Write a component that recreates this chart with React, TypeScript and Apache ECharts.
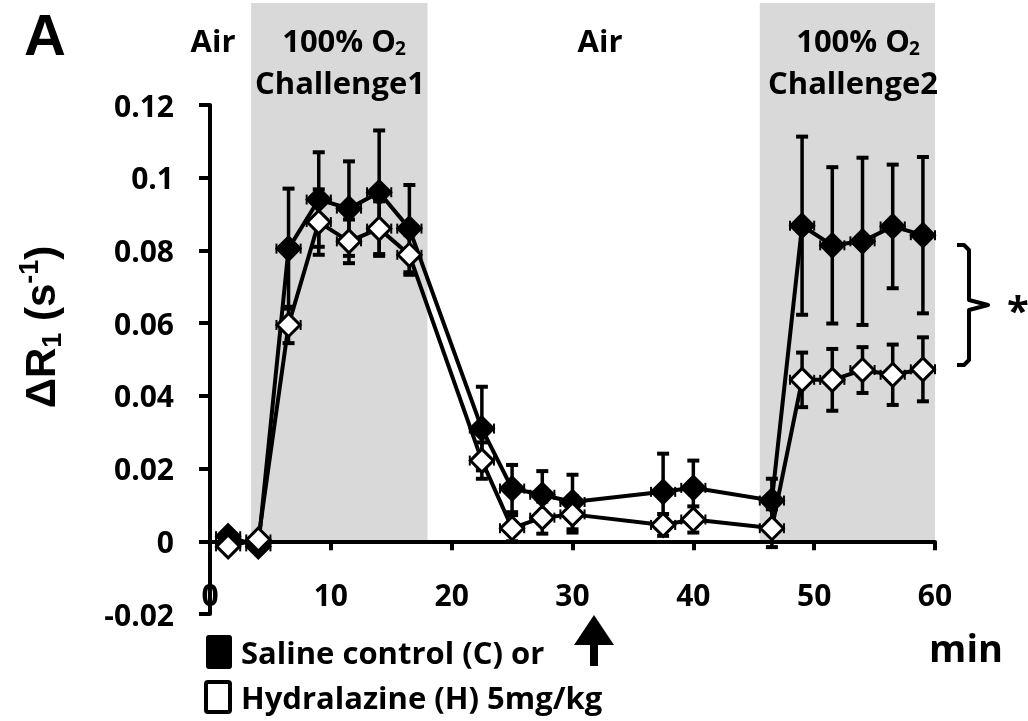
import React, { useEffect, useRef } from 'react';
import * as echarts from 'echarts';

// ---- data ----
const timeMin = [1.5, 4, 6.5, 9, 11.5, 14, 16.5, 22.5, 25, 27.5, 30, 37.5, 40, 46.5, 49, 51.5, 54, 56.5, 59];
const salineMean = [0.0014, -0.0014, 0.0805, 0.094, 0.0915, 0.096, 0.086, 0.031, 0.0145, 0.0128, 0.0108, 0.0136, 0.0147, 0.0112, 0.0868, 0.0814, 0.0825, 0.0866, 0.0842];
const salineSem = [0.001, 0.001, 0.0165, 0.013, 0.013, 0.017, 0.012, 0.0115, 0.0065, 0.0065, 0.0075, 0.0105, 0.0075, 0.006, 0.0245, 0.0215, 0.023, 0.017, 0.0215];
const hydralazineMean = [-0.0014, 0.0005, 0.0595, 0.0878, 0.0825, 0.086, 0.0788, 0.0222, 0.0036, 0.0065, 0.0074, 0.0045, 0.006, 0.0036, 0.0444, 0.0444, 0.0471, 0.0458, 0.0473];
const hydralazineSem = [0.001, 0.001, 0.005, 0.009, 0.006, 0.0075, 0.0055, 0.005, 0.0036, 0.0044, 0.005, 0.003, 0.0036, 0.0052, 0.0075, 0.0085, 0.0063, 0.0083, 0.0088];
const timeSem = [1, 1, 1, 1, 1, 1, 1, 1, 1, 1, 1, 1, 1, 1, 1, 1, 1, 1, 1];
const challengeWindows = [[3.4, 18.0], [45.5, 60.0]];
const yTickFormat = (v: number) => String(+v.toFixed(2));

const FONT = 'Open Sans';

function errRender(params: any, api: any) {
  const x = api.value(0), y = api.value(1), e = api.value(2), xe = api.value(3);
  const top = api.coord([x, y + e]);
  const bot = api.coord([x, y - e]);
  const left = api.coord([x - xe, y]);
  const right = api.coord([x + xe, y]);
  const cap = 6;
  const hcap = 5;
  const st = { stroke: '#000', lineWidth: 3.5 };
  const st2 = { stroke: '#000', lineWidth: 2 };
  return {
    type: 'group',
    children: [
      { type: 'line', shape: { x1: top[0], y1: top[1], x2: bot[0], y2: bot[1] }, style: st },
      { type: 'line', shape: { x1: top[0] - cap, y1: top[1], x2: top[0] + cap, y2: top[1] }, style: { stroke: '#000', lineWidth: 4 } },
      { type: 'line', shape: { x1: bot[0] - cap, y1: bot[1], x2: bot[0] + cap, y2: bot[1] }, style: { stroke: '#000', lineWidth: 4 } },
      { type: 'line', shape: { x1: left[0], y1: left[1], x2: right[0], y2: right[1] }, style: st2 },
      { type: 'line', shape: { x1: left[0], y1: left[1] - hcap, x2: left[0], y2: left[1] + hcap }, style: st2 },
      { type: 'line', shape: { x1: right[0], y1: right[1] - hcap, x2: right[0], y2: right[1] + hcap }, style: st2 },
    ],
  };
}

function shadeRender(params: any, api: any) {
  const x0 = api.value(0), x1 = api.value(1);
  const p0 = api.coord([x0, 0]);
  const p1 = api.coord([x1, 0]);
  const topPx = 3;
  return {
    type: 'rect',
    shape: { x: p0[0], y: topPx, width: p1[0] - p0[0], height: p0[1] - topPx },
    style: { fill: '#d9d9d9' },
  };
}

export default function App() {
  const ref = useRef<HTMLDivElement>(null);
  useEffect(() => {
    document.body.style.margin = '0';
    const chart = echarts.init(ref.current!, null, { renderer: 'svg' });
    const salinePts = timeMin.map((t, i) => [t, salineMean[i]]);
    const hydraPts = timeMin.map((t, i) => [t, hydralazineMean[i]]);
    const salineErr = timeMin.map((t, i) => [t, salineMean[i], salineSem[i], timeSem[i]]);
    const hydraErr = timeMin.map((t, i) => [t, hydralazineMean[i], hydralazineSem[i], timeSem[i]]);
    const lbl = { fontFamily: FONT, fontWeight: 'bold', fontSize: 30, color: '#000' };
    const topLbl = { font: `bold 31px "${FONT}"`, fill: '#000', align: 'center', verticalAlign: 'middle' };
    const subLbl = { font: `bold 19px "${FONT}"`, fill: '#000', align: 'left', verticalAlign: 'middle' };
    chart.setOption({
      animation: false,
      grid: { left: 210, right: 93, top: 105, bottom: 107 },
      xAxis: {
        type: 'value', min: 0, max: 60, interval: 10,
        splitLine: { show: false },
        axisLine: { onZero: true, lineStyle: { color: '#000', width: 4 } },
        axisTick: { length: 9, lineStyle: { color: '#000', width: 4 } },
        axisLabel: { ...lbl, margin: -35 },
      },
      yAxis: {
        type: 'value', min: -0.02, max: 0.12, interval: 0.02,
        splitLine: { show: false },
        axisLine: { show: true, onZero: false, lineStyle: { color: '#000', width: 4 } },
        axisTick: { show: true, length: 11, lineStyle: { color: '#000', width: 4 } },
        axisLabel: { ...lbl, margin: 36, formatter: yTickFormat },
      },
      series: [
        { type: 'custom', data: challengeWindows, renderItem: shadeRender, z: -1, clip: false, silent: true },
        { type: 'custom', data: salineErr, renderItem: errRender, z: 2, encode: { x: 0, y: 1 } },
        {
          type: 'line', data: salinePts, z: 3, symbol: 'diamond', symbolSize: 23,
          lineStyle: { color: '#000', width: 4 },
          itemStyle: { color: '#000', borderColor: '#000', borderWidth: 3 },
        },
        { type: 'custom', data: hydraErr, renderItem: errRender, z: 4, encode: { x: 0, y: 1 } },
        {
          type: 'line', data: hydraPts, z: 5, symbol: 'diamond', symbolSize: 23,
          lineStyle: { color: '#000', width: 4 },
          itemStyle: { color: '#fff', borderColor: '#000', borderWidth: 3 },
        },
      ],
      graphic: [
        { type: 'text', x: 24, y: 34, style: { text: 'A', font: 'bold 58px "Liberation Sans"', fill: '#000', verticalAlign: 'middle' } },
        { type: 'text', x: 213, y: 40, style: { ...topLbl, text: 'Air' } },
        { type: 'text', x: 396, y: 40, style: { ...topLbl, align: 'right', text: '100% O' } },
        { type: 'text', x: 395, y: 48, style: { ...subLbl, text: '2' } },
        { type: 'text', x: 340, y: 82, style: { ...topLbl, text: 'Challenge1' } },
        { type: 'text', x: 600, y: 40, style: { ...topLbl, text: 'Air' } },
        { type: 'text', x: 910, y: 40, style: { ...topLbl, align: 'right', text: '100% O' } },
        { type: 'text', x: 909, y: 48, style: { ...subLbl, text: '2' } },
        { type: 'text', x: 853, y: 82, style: { ...topLbl, text: 'Challenge2' } },
        {
          type: 'text', x: 40, y: 327, rotation: Math.PI / 2,
          style: {
            text: '{m|ΔR}{s|1}{m| (s}{p|-1}{m|)}', align: 'center', verticalAlign: 'middle',
            rich: {
              m: { font: 'bold 42px "Liberation Sans"', fill: '#000' },
              s: { font: 'bold 27px "Liberation Sans"', fill: '#000', padding: [24, 0, 0, 0] },
              p: { font: 'bold 27px "Liberation Sans"', fill: '#000', padding: [0, 0, 22, 0] },
            },
          },
        },
        {
          type: 'polyline',
          shape: { points: [[957, 245], [964, 245], [969, 250], [969, 300], [988, 305], [969, 310], [969, 360], [964, 365], [957, 365]] },
          style: { stroke: '#000', lineWidth: 4, fill: null, lineJoin: 'round' },
        },
        { type: 'text', x: 1018, y: 309, style: { text: '*', font: `bold 40px "${FONT}"`, fill: '#000', align: 'center', verticalAlign: 'middle' } },
        {
          type: 'polygon',
          shape: { points: [[594, 615], [614, 645], [598, 645], [598, 666], [590, 666], [590, 645], [574, 645]] },
          style: { fill: '#000' },
        },
        { type: 'rect', shape: { x: 206, y: 635, width: 26, height: 34, r: 3 }, style: { fill: '#000' } },
        { type: 'rect', shape: { x: 206, y: 682, width: 24, height: 30, r: 2 }, style: { fill: '#fff', stroke: '#000', lineWidth: 4 } },
        { type: 'text', x: 241, y: 652, style: { text: 'Saline control (C) or', font: `bold 31px "${FONT}"`, fill: '#000', verticalAlign: 'middle' } },
        { type: 'text', x: 241, y: 697, style: { text: 'Hydralazine (H) 5mg/kg', font: `bold 31px "${FONT}"`, fill: '#000', verticalAlign: 'middle' } },
        { type: 'text', x: 966, y: 647, style: { text: 'min', font: `bold 38px "${FONT}"`, fill: '#000', align: 'center', verticalAlign: 'middle' } },
      ],
    });
    return () => chart.dispose();
  }, []);
  return <div ref={ref} style={{ width: 1028, height: 721, position: 'fixed', left: 0, top: 0 }} />;
}
